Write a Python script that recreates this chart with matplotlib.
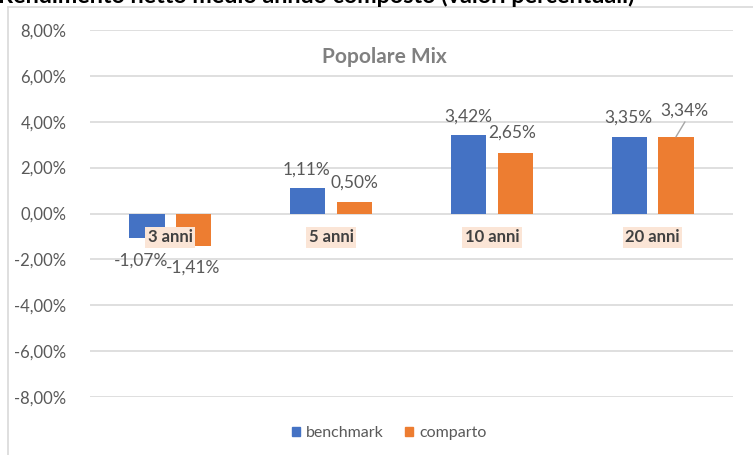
import matplotlib
matplotlib.use("Agg")
import matplotlib.pyplot as plt
from matplotlib.lines import Line2D
import numpy as np

plt.rcParams['font.family'] = ['Lato', 'DejaVu Sans']

categories = ["3 anni", "5 anni", "10 anni", "20 anni"]
benchmark = [-1.07, 1.11, 3.42, 3.35]
comparto = [-1.41, 0.50, 2.65, 3.34]
yticks = [-8, -6, -4, -2, 0, 2, 4, 6, 8]
series_names = ["benchmark", "comparto"]
chart_title = "Popolare Mix"
header = "Rendimento netto medio annuo composto (valori percentuali)"

BLUE = "#4472C4"
ORANGE = "#ED7D31"
GRID = "#D9D9D9"
TXT = "#595959"

W, H = 753, 455
fig = plt.figure(figsize=(W / 100, H / 100), dpi=100)
ax = fig.add_axes([90 / W, 1 - 397 / H, 643 / W, 367 / H])

x = np.arange(len(categories))
bw = 0.22
off = 0.145
b1 = ax.bar(x - off, benchmark, bw, color=BLUE, zorder=3)
b2 = ax.bar(x + off, comparto, bw, color=ORANGE, zorder=3)

ax.set_xlim(-0.5, len(categories) - 0.5)
ax.set_ylim(yticks[0], yticks[-1])
ax.set_yticks(yticks)
ax.set_yticklabels([f"{v:.2f}%".replace(".", ",") for v in yticks], color=TXT, fontsize=12)
ax.tick_params(axis='y', length=0, pad=17)
ax.set_xticks([])
for s in ax.spines.values():
    s.set_visible(False)
ax.grid(axis='y', color=GRID, linewidth=1.2, zorder=0)

def fmt(v):
    return f"{v:.2f}%".replace(".", ",")

# data labels (pixel offsets from bar end, manually placed as in the reference)
off_b = [(-6, -23), (-1, 18), (0, 18), (-1, 19)]
off_c = [(-1, -22), (0, 19), (-3, 20), (8, 26)]
for i in range(len(categories)):
    for bars, vals, offs in ((b1, benchmark, off_b), (b2, comparto, off_c)):
        r = bars[i]
        xc = r.get_x() + r.get_width() / 2
        v = vals[i]
        dx, dy = offs[i]
        ax.annotate(fmt(v), (xc, v), xytext=(dx * 0.72, dy * 0.72), textcoords='offset points',
                    ha='center', va='center', fontsize=12.5, color=TXT, zorder=5)

# leader line for 3,34%
r = b2[3]
ax.annotate("", xy=(r.get_x() + r.get_width() / 2, comparto[3]),
            xytext=(9 * 0.72, 15 * 0.72), textcoords='offset points',
            arrowprops=dict(arrowstyle='-', color='#A6A6A6', lw=1, shrinkA=0, shrinkB=0))

# category labels with peach background
for i, c in enumerate(categories):
    ax.annotate(c, (x[i], 0), xytext=(0, -17), textcoords='offset points',
                ha='center', va='center', fontsize=12, fontweight='bold', color='#404040',
                bbox=dict(boxstyle='square,pad=0.15', fc='#FBE5D6', ec='none'), zorder=6)

fig.text(384 / W, 1 - 57 / H, chart_title, ha='center', va='center', fontsize=15,
         fontweight='bold', color='#808080')

handles = [plt.Rectangle((0, 0), 1, 1, color=BLUE), plt.Rectangle((0, 0), 1, 1, color=ORANGE)]
fig.legend(handles, series_names, loc='center', bbox_to_anchor=(389 / W, 1 - 433 / H), ncol=2,
           frameon=False, fontsize=11.5, labelcolor=TXT, handlelength=0.55, handleheight=0.55,
           handletextpad=0.35, columnspacing=1.3)

fig.text(-2 / W, 1 - 3 / H, header, ha='left', va='baseline', fontsize=16.8, fontweight='bold',
         color='black')

fig.add_artist(Line2D([7.5 / W, 7.5 / W], [0, 1 - 7 / H], color=GRID, lw=1.2))
fig.add_artist(Line2D([7.5 / W, 1], [1 - 7 / H, 1 - 7 / H], color=GRID, lw=1.2))

fig.savefig("out.png", dpi=100)
